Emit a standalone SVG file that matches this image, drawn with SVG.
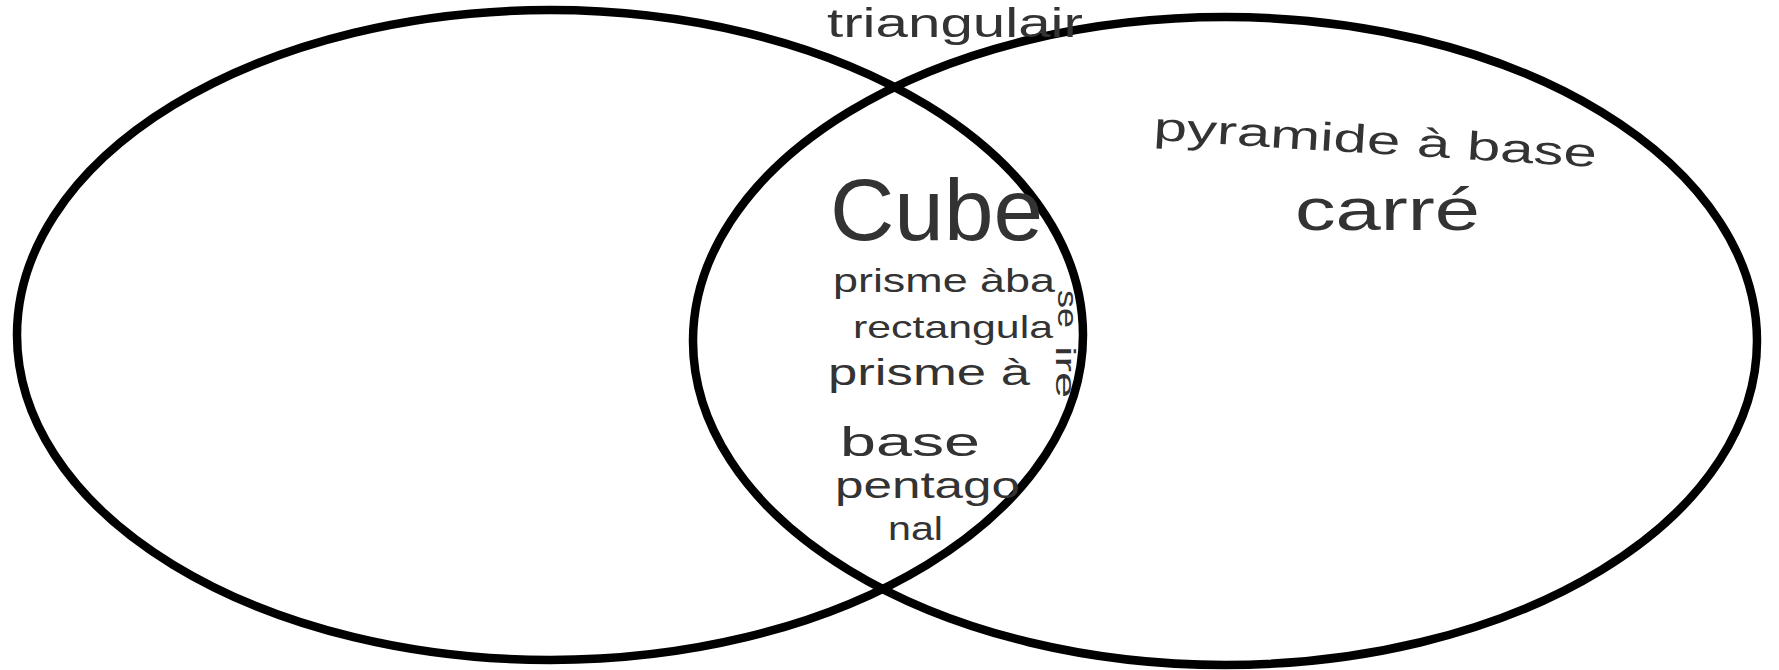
<svg xmlns="http://www.w3.org/2000/svg" width="1779" height="670" viewBox="0 0 1779 670">
<style>
.ring{fill:none;stroke:#000;stroke-width:8.5}
.hw{font-family:"Liberation Sans","DejaVu Sans",sans-serif;fill:#333}
</style>
<rect width="1779" height="670" fill="#fff"/>
<g id="set-left">
<ellipse class="ring" cx="550" cy="335" rx="533" ry="325"/>
</g>
<g id="set-right">
<ellipse class="ring" cx="1225" cy="341" rx="532" ry="324"/>
</g>
<g id="label-top">
<text class="hw" x="827" y="37" font-size="40" textLength="256" lengthAdjust="spacingAndGlyphs">triangulair</text>
</g>
<g id="label-intersection">
<text class="hw" x="830" y="240" font-size="88" textLength="213" lengthAdjust="spacingAndGlyphs">Cube</text>
<text class="hw" x="833" y="292" font-size="34" textLength="222" lengthAdjust="spacingAndGlyphs">prisme àba</text>
<text class="hw" x="1058" y="290" font-size="28" textLength="38" lengthAdjust="spacingAndGlyphs" transform="rotate(90 1058 290)">se</text>
<text class="hw" x="853" y="338" font-size="32" textLength="200" lengthAdjust="spacingAndGlyphs">rectangula</text>
<text class="hw" x="1056" y="346" font-size="28" textLength="52" lengthAdjust="spacingAndGlyphs" transform="rotate(90 1056 346)">ire</text>
<text class="hw" x="828" y="385" font-size="36" textLength="202" lengthAdjust="spacingAndGlyphs">prisme à</text>
<text class="hw" x="840" y="456" font-size="40" textLength="140" lengthAdjust="spacingAndGlyphs">base</text>
<text class="hw" x="835" y="498" font-size="36" textLength="185" lengthAdjust="spacingAndGlyphs">pentago</text>
<text class="hw" x="888" y="540" font-size="34" textLength="55" lengthAdjust="spacingAndGlyphs">nal</text>
</g>
<g id="label-right">
<text class="hw" x="1153" y="140" font-size="40" textLength="444" lengthAdjust="spacingAndGlyphs" transform="rotate(3.5 1153 140)">pyramide à base</text>
<text class="hw" x="1295" y="230" font-size="60" textLength="185" lengthAdjust="spacingAndGlyphs">carré</text>
</g>
</svg>
